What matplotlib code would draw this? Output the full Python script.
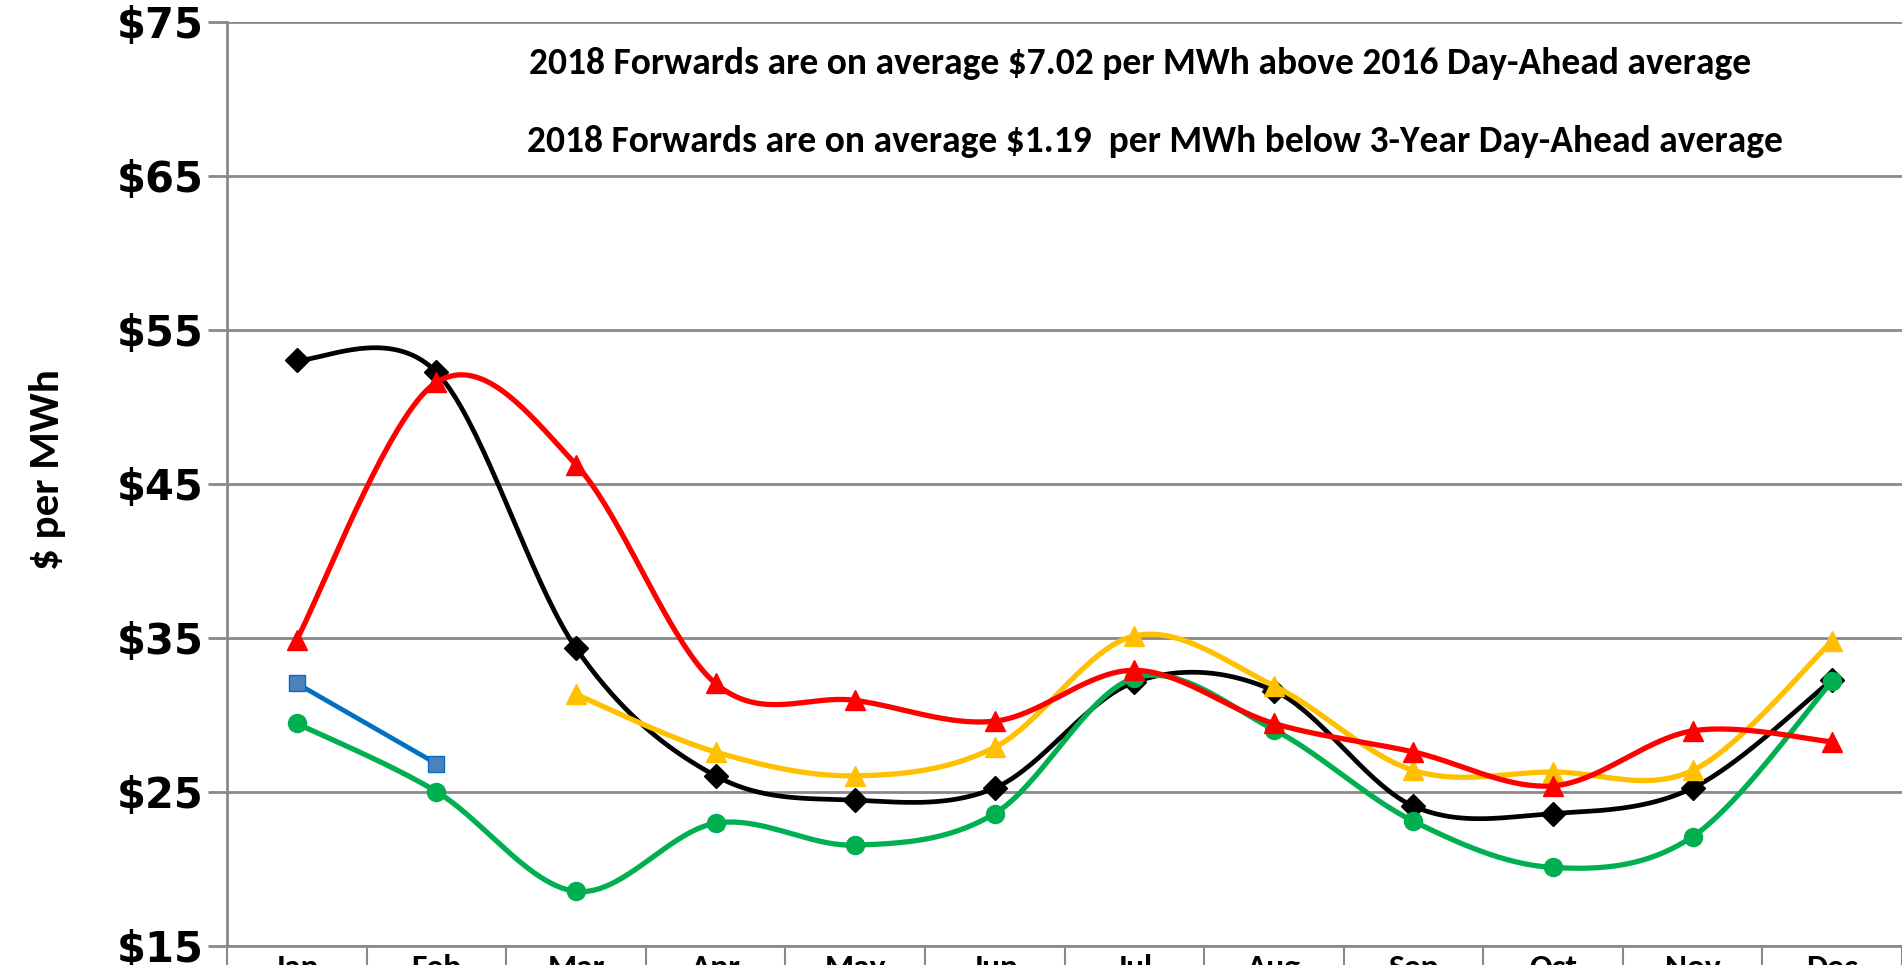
import numpy as np
import matplotlib
matplotlib.use("Agg")
import matplotlib.pyplot as plt

months = ["Jan", "Feb", "Mar", "Apr", "May", "Jun", "Jul", "Aug", "Sep", "Oct", "Nov", "Dec"]
black_vals = [53.05, 52.26, 34.34, 26.05, 24.47, 25.26, 32.13, 31.58, 24.08, 23.6, 25.26, 32.29]
red_vals = [34.9, 51.6, 46.26, 32.05, 30.95, 29.6, 32.9, 29.45, 27.6, 25.4, 28.97, 28.26]
yellow_vals = [None, None, 31.34, 27.6, 26.05, 27.9, 35.13, 31.9, 26.4, 26.3, 26.4, 34.8]
green_vals = [29.45, 25.03, 18.55, 22.97, 21.55, 23.6, 32.4, 29.05, 23.1, 20.1, 22.1, 32.2]
blue_vals = [32.05, 26.84]
yticks = [15, 25, 35, 45, 55, 65, 75]
note1 = "2018 Forwards are on average $7.02 per MWh above 2016 Day-Ahead average"
note2 = "2018 Forwards are on average $1.19  per MWh below 3-Year Day-Ahead average"

NARROW = ["Carlito", "DejaVu Sans"]


def smooth(xs, ys, n=40):
    xs = np.asarray(xs, float)
    ys = np.asarray(ys, float)
    P = np.column_stack([xs, ys])
    m = len(P)
    if m < 3:
        return xs, ys
    out = []
    for i in range(m - 1):
        p0 = P[i - 1] if i > 0 else P[i]
        p1 = P[i]
        p2 = P[i + 1]
        p3 = P[i + 2] if i + 2 < m else P[i + 1]
        c1 = p1 + (p2 - p0) / 6.0
        c2 = p2 - (p3 - p1) / 6.0
        t = np.linspace(0, 1, n)[:, None]
        seg = ((1 - t) ** 3) * p1 + 3 * ((1 - t) ** 2) * t * c1 + 3 * (1 - t) * t ** 2 * c2 + t ** 3 * p2
        if i > 0:
            seg = seg[1:]
        out.append(seg)
    out = np.vstack(out)
    return out[:, 0], out[:, 1]


fig = plt.figure(figsize=(19.02, 9.65), dpi=100)
ax = fig.add_axes([227 / 1902, 1 - 946 / 965, 1 - 227 / 1902, (946 - 22) / 965])

x = np.arange(len(months))


def draw(vals, color, marker, ms, lw, mfc=None, mec=None, curve=True, z=3):
    pts = [(xi, v) for xi, v in zip(x, vals) if v is not None]
    xs = [p[0] for p in pts]
    ys = [p[1] for p in pts]
    if curve:
        sx, sy = smooth(xs, ys)
    else:
        sx, sy = xs, ys
    ax.plot(sx, sy, color=color, lw=lw, zorder=z, solid_capstyle="round")
    ax.plot(xs, ys, linestyle="none", marker=marker, markersize=ms,
            markerfacecolor=mfc or color, markeredgecolor=mec or color, zorder=z + 0.5)


draw(black_vals, "black", "D", 12, 3.4, z=3)
draw(yellow_vals, "#FFC000", "^", 15, 3.8, z=4)
draw(green_vals, "#00B050", "o", 13, 3.8, z=5)
draw(red_vals, "#FF0000", "^", 15, 3.8, z=6)
draw(blue_vals, "#0070C0", "s", 12, 3.4, mfc="#4F81BD", mec="#0070C0", curve=False, z=7)

ax.set_xlim(-0.5, 11.5)
ax.set_ylim(15, 75)
ax.set_yticks(yticks)
ax.set_yticklabels(["$%d" % v for v in yticks], fontsize=30, fontweight="bold",
                   family="DejaVu Sans")
ax.yaxis.grid(True, color="#898989", lw=2)
ax.set_axisbelow(True)
ax.tick_params(axis="y", length=14, width=2, color="#898989", pad=3)

ax.set_xticks(x)
ax.set_xticklabels(months, fontsize=24, fontweight="bold", family=NARROW, va="top")
ax.tick_params(axis="x", which="major", length=0, pad=6)
ax.set_xticks(np.arange(-0.5, 12, 1), minor=True)
ax.tick_params(axis="x", which="minor", length=30, width=1.5, color="#898989")

for s in ["top", "right"]:
    ax.spines[s].set_visible(False)
for s in ["left", "bottom"]:
    ax.spines[s].set_color("#898989")
    ax.spines[s].set_linewidth(2)

fig.text(48 / 1902, 1 - 470 / 965, "$ per MWh", rotation=90, ha="center", va="center",
         fontsize=31, fontweight="bold", family=NARROW)

fig.text(1140 / 1902, 1 - 63 / 965, note1, ha="center", va="center",
         fontsize=27, fontweight="bold", family=NARROW)
fig.text(1155 / 1902, 1 - 142 / 965, note2, ha="center", va="center",
         fontsize=27, fontweight="bold", family=NARROW)

fig.savefig("out.png", dpi=100)
